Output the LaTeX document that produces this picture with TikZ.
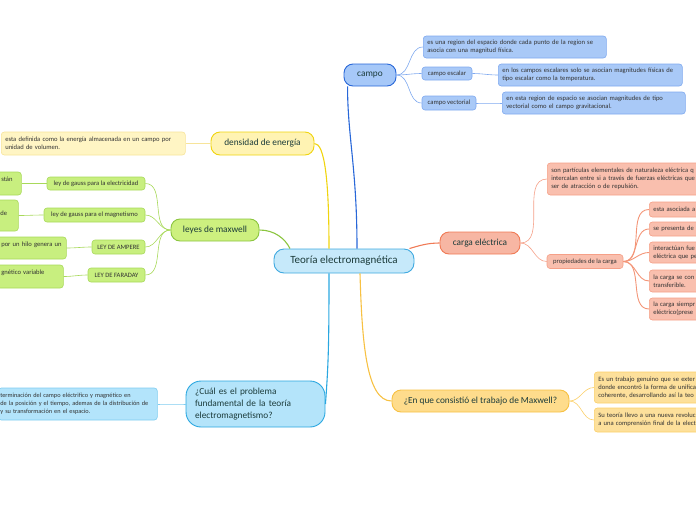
\documentclass[tikz,border=0pt]{standalone}
\usepackage{fontspec}
\setmainfont{Carlito}
\usepackage{tikz}
\definecolor{ink}{HTML}{1B3B3A}
\definecolor{leafink}{HTML}{333333}
\definecolor{mainfill}{HTML}{C6E9FA}\definecolor{maindraw}{HTML}{3FA9E0}
\definecolor{campofill}{HTML}{A6C8F8}\definecolor{campodraw}{HTML}{2867D8}
\definecolor{cleaf}{HTML}{A9C9F7}\definecolor{cline}{HTML}{7FA9EF}
\definecolor{densfill}{HTML}{FFF3B3}\definecolor{densdraw}{HTML}{F0D40E}
\definecolor{dleaf}{HTML}{FFF5C4}\definecolor{dline}{HTML}{F7E49A}
\definecolor{leyfill}{HTML}{CDF07F}\definecolor{leydraw}{HTML}{8BC53F}
\definecolor{lleaf}{HTML}{C8EF7F}\definecolor{lline}{HTML}{A8D95A}
\definecolor{cargafill}{HTML}{F7B6A3}\definecolor{cargadraw}{HTML}{F07A55}
\definecolor{kleaf}{HTML}{F9BFAE}\definecolor{kline}{HTML}{F5A088}
\definecolor{mwfill}{HTML}{FEDC8C}\definecolor{mwdraw}{HTML}{F7C143}
\definecolor{mleaf}{HTML}{FDE09B}\definecolor{mline}{HTML}{FBD06A}
\definecolor{pbfill}{HTML}{B4E4FA}\definecolor{pbdraw}{HTML}{2AA7E0}
\definecolor{bleaf}{HTML}{B3E4FB}\definecolor{bline}{HTML}{7FCDF0}

\begin{document}
\begin{tikzpicture}[x=1pt,y=-1pt,
topic/.style n args={2}{draw=#1,fill=#2,line width=0.9pt,rounded corners=9pt,text=ink,font=\fontsize{9.3}{12}\selectfont,inner sep=0pt},
sub/.style n args={2}{draw=#1,fill=#2,line width=0.6pt,rounded corners=3pt,text=leafink,font=\fontsize{6.6}{8}\selectfont,inner sep=0pt},
leaf/.style n args={2}{sub={#1}{#2},align=left,anchor=west,inner xsep=4pt},
branch/.style={line width=1.1pt},twig/.style={line width=0.6pt}]
\useasboundingbox (0,0) rectangle (696,520); \clip (0,0) rectangle (696,520);
% central topic and main branches
\node[topic={maindraw}{mainfill},minimum width=140pt,minimum height=24pt,font=\fontsize{11}{12}\selectfont,rounded corners=10pt] (main) at (344,261) {Teoría electromagnética};
\node[topic={campodraw}{campofill},minimum width=52pt,minimum height=22pt] (campo) at (370,75) {campo};
\node[topic={densdraw}{densfill},minimum width=103pt,minimum height=23pt] (dens) at (262.5,143.5) {densidad de energía};
\node[topic={leydraw}{leyfill},minimum width=88pt,minimum height=22pt] (leyes) at (215,230) {leyes de maxwell};
\node[topic={cargadraw}{cargafill},minimum width=80pt,minimum height=22pt] (carga) at (480,243) {carga eléctrica};
\node[topic={mwdraw}{mwfill},minimum width=177pt,minimum height=22pt] (mwork) at (480.5,401) {¿En que consistió el trabajo de Maxwell?};
\node[topic={pbdraw}{pbfill},minimum width=139pt,minimum height=46pt,rounded corners=15pt,align=left,text width=121pt,inner xsep=9pt] (prob) at (255.5,404) {¿Cuál es el problema\\fundamental de la teoría\\electromagnetismo?};
\draw[branch,campodraw] ([xshift=13pt]main.north) .. controls +(0,-80) and +(0,50) .. ([xshift=4pt]campo.south west);
\draw[branch,densdraw] ([xshift=-15pt]main.north) .. controls +(0,-70) and +(10,0) .. (dens.east);
\draw[branch,leydraw] ([xshift=-54pt]main.north) .. controls +(-5,-10) and +(15,0) .. (leyes.east);
\draw[branch,cargadraw] ([xshift=-5pt]main.north east) .. controls +(10,-3) and +(-12,0) .. (carga.west);
\draw[branch,pbdraw] ([xshift=-15pt]main.south) .. controls +(0,70) and +(3,-40) .. (prob.east);
\draw[branch,mwdraw] ([xshift=16pt]main.south) .. controls +(2,70) and +(-25,0) .. (mwork.west);
% campo
\node[leaf={cline}{cleaf},minimum height=22pt,text width=175pt] (cdef) at (423,47) {es una region del espacio donde cada punto de la region se\\asocia con una magnitud física.};
\node[sub={cline}{cleaf},minimum width=50pt,minimum height=13pt] (cesc) at (447,73.5) {campo escalar};
\node[sub={cline}{cleaf},minimum width=54pt,minimum height=14pt] (cvec) at (449,103) {campo vectorial};
\node[leaf={cline}{cleaf},minimum height=22pt,text width=176pt] (cescdef) at (498,75) {en los campos escalares solo se asocian magnitudes físicas de\\tipo escalar como la temperatura.};
\node[leaf={cline}{cleaf},minimum height=22pt,text width=175pt] (cvecdef) at (502,103) {en esta region de espacio se asocian magnitudes de tipo\\vectorial como el campo gravitacional.};
\foreach \t in {cdef,cesc,cvec} \draw[twig,cline] (campo.east) to[out=0,in=180] (\t.west);
\draw[twig,cline] (cesc.east) to[out=0,in=180] (cescdef.west);
\draw[twig,cline] (cvec.east) to[out=0,in=180] (cvecdef.west);
% densidad de energia
\node[leaf={dline}{dleaf},minimum height=23pt,text width=176pt] (densdef) at (1,143.5) {esta definida como la energía almacenada en un campo por\\unidad de volumen.};
\draw[twig,dline] (dens.west) to[out=180,in=0] (densdef.east);
% leyes de maxwell
\node[sub={lline}{lleaf},minimum width=98pt,minimum height=13pt] (gausse) at (96,183.5) {ley de gauss para la electricidad};
\node[sub={lline}{lleaf},minimum width=101pt,minimum height=14pt] (gaussm) at (94.5,215) {ley de gauss para el magnetismo};
\node[sub={lline}{lleaf},minimum width=53pt,minimum height=14pt] (ampere) at (118.5,247) {LEY DE AMPERE};
\node[sub={lline}{lleaf},minimum width=57pt,minimum height=14pt] (faraday) at (116.5,275) {LEY DE FARADAY};
\node[leaf={lline}{lleaf},minimum height=23pt,text width=16pt] (gaussedef) at (-3,183.5) {stán\\\mbox{}};
\node[leaf={lline}{lleaf},minimum height=31pt,text width=14pt] (gaussmdef) at (-4,215.5) {\mbox{}\\de\\\mbox{}};
\node[leaf={lline}{lleaf},minimum height=22pt,text width=61pt] (amperedef) at (-3,248) {por un hilo genera un\\\mbox{}};
\node[leaf={lline}{lleaf},minimum height=23pt,text width=58pt] (faradaydef) at (-3,276.5) {gnético variable\\\mbox{}};
\foreach \t in {gausse,gaussm,ampere,faraday} \draw[twig,lline] (leyes.west) to[out=180,in=0] (\t.east);
\draw[twig,lline] (gausse.west) to[out=180,in=0] (gaussedef.east);
\draw[twig,lline] (gaussm.west) to[out=180,in=0] (gaussmdef.east);
\draw[twig,lline] (ampere.west) to[out=180,in=0] (amperedef.east);
\draw[twig,lline] (faraday.west) to[out=180,in=0] (faradaydef.east);
% carga electrica
\node[leaf={kline}{kleaf},minimum height=32pt,text width=200pt] (kdef) at (547,179) {son partículas elementales de naturaleza eléctrica q\\intercalan entre si a través de fuerzas eléctricas que\\ser de atracción o de repulsión.};
\node[sub={kline}{kleaf},minimum width=76pt,minimum height=14pt] (prop) at (585,261.5) {propiedades de la carga};
\draw[twig,kline] (carga.east) to[out=0,in=180] (kdef.west);
\draw[twig,kline] (carga.east) to[out=0,in=180] (prop.west);
\node[leaf={kline}{kleaf},minimum height=15pt,text width=100pt] (p1) at (649,209.5) {esta asociada a};
\node[leaf={kline}{kleaf},minimum height=14pt,text width=100pt] (p2) at (649,229) {se presenta de};
\node[leaf={kline}{kleaf},minimum height=21pt,text width=100pt] (p3) at (649,252.5) {interactúan fue\\eléctrica que pe};
\node[leaf={kline}{kleaf},minimum height=22pt,text width=100pt] (p4) at (649,281) {la carga se con\\transferible.};
\node[leaf={kline}{kleaf},minimum height=22pt,text width=100pt] (p5) at (649,309) {la carga siempr\\eléctrico(prese};
\foreach \t in {p1,p2,p3,p4,p5} \draw[line width=0.9pt,cargadraw!80] (prop.east) to[out=0,in=180] (\t.west);
% trabajo de Maxwell
\node[leaf={mline}{mleaf},minimum height=31pt,text width=150pt] (mw1) at (594,387.5) {Es un trabajo genuino que se exter\\donde encontró la forma de unifica\\coherente, desarrollando así la teo};
\node[leaf={mline}{mleaf},minimum height=24pt,text width=150pt] (mw2) at (594,420) {Su teoría llevo a una nueva revoluc\\a una comprensión final de la elect};
\draw[twig,mline] (mwork.east) to[out=0,in=180] (mw1.west);
\draw[twig,mline] (mwork.east) to[out=0,in=180] (mw2.west);
% problema fundamental
\node[leaf={bline}{bleaf},minimum height=32pt,text width=155pt,inner xsep=2pt,font=\fontsize{6.3}{8}\selectfont] (pbdef) at (-2,404) {terminación del campo eléctrifico y magnético en\\de la posición y el tiempo, ademas de la distribución de\\y su transformación en el espacio.};
\draw[twig,bline] (prob.west) to[out=180,in=0] (pbdef.east);
\end{tikzpicture}
\end{document}
